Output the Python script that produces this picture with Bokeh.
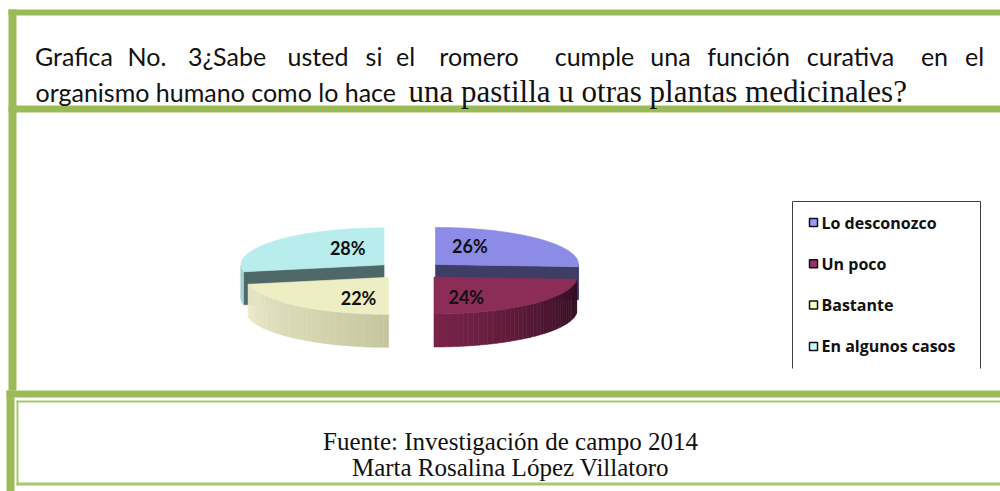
import numpy as np
from bokeh.plotting import figure
from bokeh.models import Range1d
from bokeh.core.properties import value
from bokeh.embed import file_html
from bokeh.resources import INLINE

# ---------------- data ----------------
categories = ["Lo desconozco", "Un poco", "Bastante", "En algunos casos"]
percentages = [26, 24, 22, 28]
legend_colors = ["#9999ff", "#993366", "#ffffcc", "#ccffff"]
top_colors = ["#8c8ce6", "#8c2d58", "#eeeec4", "#b9ecec"]
cut_colors = ["#3d3d66", "#5a1c38", "#c8c8a0", "#4e6868"]
side_start_rgb = [(70, 70, 120), (48, 14, 32), (198, 198, 158), (160, 210, 210)]
side_end_rgb = [(70, 70, 120), (122, 36, 74), (236, 236, 205), (160, 210, 210)]

title_words = ["Grafica", "No.", "3¿Sabe", "usted", "si", "el", "romero",
               "cumple", "una", "función", "curativa", "en", "el"]
title_line2_sans = "organismo humano como lo hace"
title_line2_serif = "una pastilla u otras plantas medicinales?"
source_lines = ["Fuente: Investigación de campo 2014", "Marta Rosalina López Villatoro"]

# ---------------- layout ----------------
W, H = 1000, 491
p = figure(width=W, height=H, x_range=Range1d(0, W), y_range=Range1d(H, 0),
           output_backend="svg", toolbar_location=None, min_border=0,
           x_axis_type=None, y_axis_type=None)
p.grid.visible = False
p.outline_line_color = None
p.background_fill_color = "white"
p.border_fill_color = "white"

GREEN = "#9bbb59"
LIGHT_GREEN = "#a9c673"
# frame bands (left, right, top, bottom)
bands = [
    (8, 1000, 9, 15, GREEN),
    (8, 16, 9, 390, GREEN),
    (8, 1000, 105, 112, GREEN),
    (6, 1000, 390, 397, GREEN),
    (6, 14, 390, 491, GREEN),
    (16, 18, 400, 485, LIGHT_GREEN),
    (16, 1000, 400, 402, LIGHT_GREEN),
    (16, 1000, 482, 485, LIGHT_GREEN),
]
p.quad(left=[b_[0] for b_ in bands], right=[b_[1] for b_ in bands],
       top=[b_[2] for b_ in bands], bottom=[b_[3] for b_ in bands],
       fill_color=[b_[4] for b_ in bands], line_color=None)

# ---------------- title (justified line: each word centred on its slot) ----------------
word_cx = [73.5, 146.5, 226.5, 317.5, 373.5, 405, 478.5, 594, 670, 748, 850, 934, 974]
p.text(x=word_cx, y=[55] * len(title_words), text=title_words,
       text_font=value("Lato"), text_font_size=value("25px"),
       text_baseline="alphabetic", text_align="center", text_color="#111111")
p.text(x=[35], y=[91], text=[title_line2_sans],
       text_font=value("Lato"), text_font_size=value("25px"),
       text_baseline="alphabetic", text_align="left", text_color="#111111")
p.text(x=[408], y=[91], text=[title_line2_serif],
       text_font=value("Liberation Serif"), text_font_size=value("31px"),
       text_baseline="alphabetic", text_align="left", text_color="#111111")

# ---------------- 3D exploded pie ----------------
cx0, cy0 = 410.0, 270.0
a, b, depth = 143.0, 37.0, 33.0
explode = 0.24

vals = np.array(percentages, dtype=float)
edges = np.concatenate([[0.0], np.cumsum(vals)]) / vals.sum() * 360.0


def rim(cx, cy, th):
    t = np.radians(th)
    return cx + a * np.sin(t), cy - b * np.cos(t)


slices = []
for i in range(len(vals)):
    th0, th1 = edges[i], edges[i + 1]
    mid = 0.5 * (th0 + th1)
    m = np.radians(mid)
    cx = cx0 + explode * a * np.sin(m)
    cy = cy0 - explode * b * np.cos(m)
    slices.append((i, th0, th1, mid, cx, cy))

order = sorted(slices, key=lambda s: -np.cos(np.radians(s[3])))

xs, ys, cols = [], [], []
for (i, th0, th1, mid, cx, cy) in order:
    # visible radial cut faces
    for th, normal in ((th0, th0 - 90), (th1, th1 + 90)):
        if np.cos(np.radians(normal)) < -0.05:
            rx, ry = rim(cx, cy, th)
            xs.append([cx, rx, rx, cx])
            ys.append([cy, ry, ry + depth, cy + depth])
            cols.append(cut_colors[i])
    # outer side (front half only)
    s0, s1 = max(th0, 90.0), min(th1, 270.0)
    if s1 > s0:
        n = max(2, int((s1 - s0) / 2))
        ts = np.linspace(s0, s1, n + 1)
        c0 = np.array(side_start_rgb[i], dtype=float)
        c1 = np.array(side_end_rgb[i], dtype=float)
        for k in range(n):
            tt = np.linspace(ts[k], ts[k + 1], 4)
            rx, ry = rim(cx, cy, tt)
            f = (k + 0.5) / n
            c = (c0 + (c1 - c0) * f).astype(int)
            xs.append(list(rx) + list(rx[::-1]))
            ys.append(list(ry) + list((ry + depth)[::-1]))
            cols.append("#%02x%02x%02x" % tuple(c))
    # top face
    tt = np.linspace(th0, th1, 80)
    rx, ry = rim(cx, cy, tt)
    xs.append([cx] + list(rx))
    ys.append([cy] + list(ry))
    cols.append(top_colors[i])

p.patches(xs=xs, ys=ys, fill_color=cols, line_color=cols, line_width=0.6)

# percentage labels
lx, ly, lt = [], [], []
for (i, th0, th1, mid, cx, cy) in slices:
    m = np.radians(mid)
    lx.append(cx + 0.33 * a * np.sin(m))
    ly.append(cy - 0.73 * b * np.cos(m))
    lt.append(f"{int(percentages[i])}%")
p.text(x=lx, y=ly, text=lt, text_font=value("Lato"), text_font_style="bold",
       text_font_size=value("18px"), text_align="center", text_baseline="middle",
       text_color="#111111")

# ---------------- legend ----------------
box_l, box_r, box_t, box_b = 792, 980, 201, 368
p.line(x=[box_l, box_l, box_r, box_r], y=[box_b, box_t, box_t, box_b],
       line_color="#404040", line_width=1)
row_y = [box_t + 21 + 41.3 * k for k in range(len(categories))]
p.quad(left=[809] * 4, right=[817] * 4, top=[y - 4 for y in row_y],
       bottom=[y + 4 for y in row_y], fill_color=legend_colors,
       line_color="#111111", line_width=1.5)
p.text(x=[821] * 4, y=row_y, text=categories, text_font=value("Open Sans"),
       text_font_style="bold", text_font_size=value("16px"),
       text_align="left", text_baseline="middle", text_color="#111111")

# ---------------- source ----------------
p.text(x=[510, 510], y=[441, 467], text=source_lines,
       text_font=value("Liberation Serif"), text_font_size=value("25px"),
       text_align="center", text_baseline="alphabetic", text_color="#111111")

open("out.html", "w").write(file_html(p, INLINE))
